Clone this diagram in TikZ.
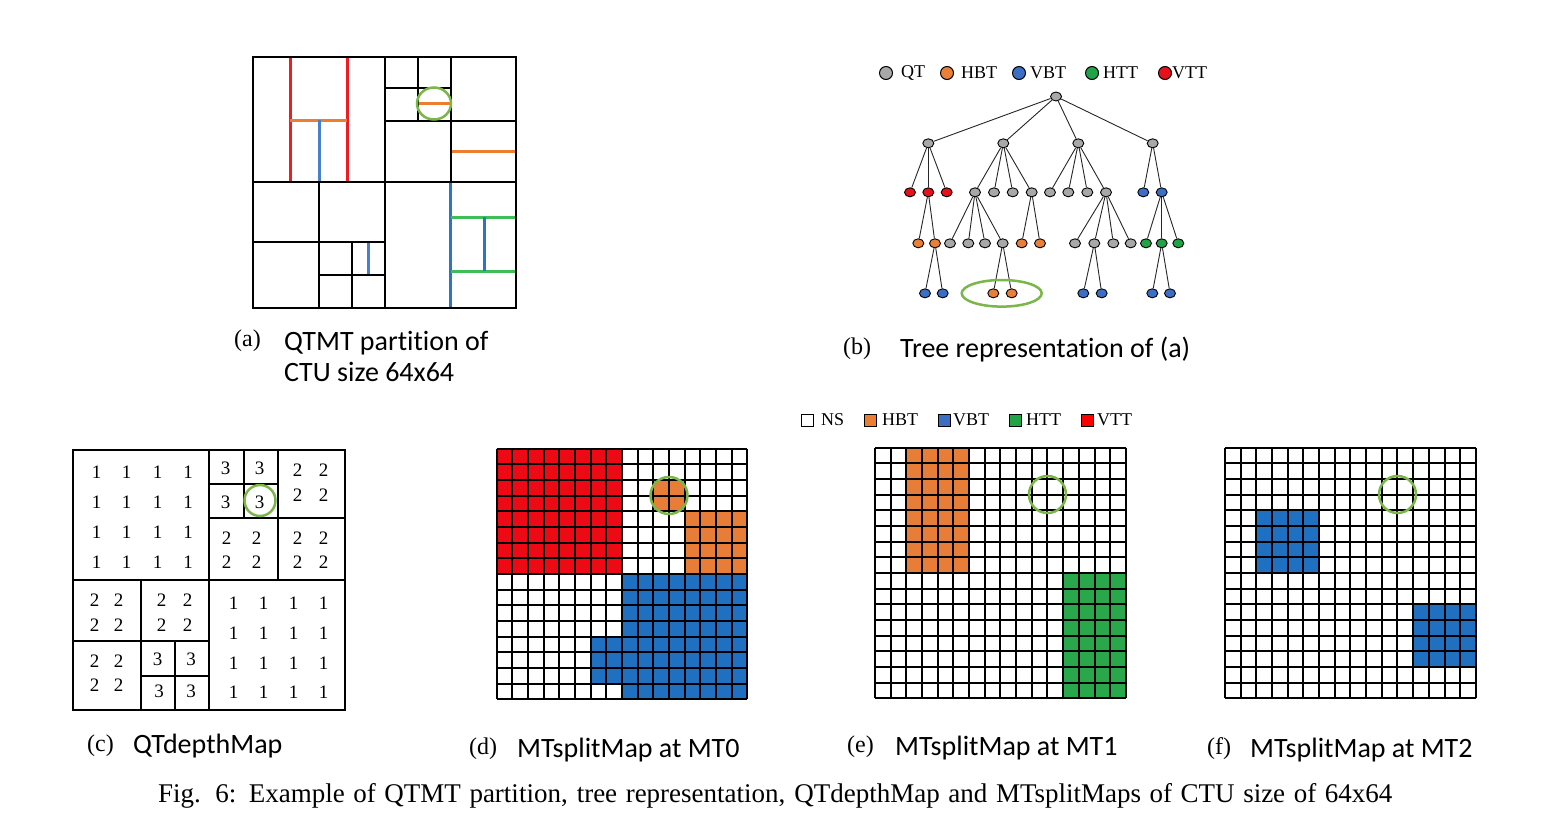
\documentclass[tikz,border=0pt]{standalone}
\usepackage{fontspec}
\setmainfont{Liberation Serif}
\newfontfamily\calib[Ligatures=NoCommon]{Carlito}
\usetikzlibrary{shapes.geometric}
\definecolor{lRed}{HTML}{EE1C24}
\definecolor{lOrange}{HTML}{ED7D31}
\definecolor{lBlue}{HTML}{4A7FC9}
\definecolor{lBlueD}{HTML}{2E75C0}
\definecolor{lGreen}{HTML}{3DBF55}
\definecolor{nGray}{HTML}{A8A8A8}
\definecolor{nRed}{HTML}{E8101A}
\definecolor{nOrange}{HTML}{E8803A}
\definecolor{nBlue}{HTML}{3B6FC4}
\definecolor{nGreen}{HTML}{21A347}
\definecolor{fRed}{HTML}{EE0A14}
\definecolor{fOrange}{HTML}{E87D37}
\definecolor{fBlue}{HTML}{1F70C0}
\definecolor{fGreen}{HTML}{28A84A}
\definecolor{cCirc}{HTML}{7AB648}
\newcommand\mtgrid[2]{%
  \foreach \k in {0,...,16} {
    \draw[gridl] ({#1+\k*15.68},#2) -- ({#1+\k*15.68},{#2+250.9});
    \draw[gridl] (#1,{#2+\k*15.68}) -- ({#1+250.9},{#2+\k*15.68});
  }}
\newcommand\blk[7]{\fill[#1] ({#2+#4*15.68},{#3+#5*15.68}) rectangle ({#2+(#4+#6)*15.68},{#3+(#5+#7)*15.68});}
\begin{document}
\begin{tikzpicture}[x=1pt,y=-1pt,
  tn/.style={ellipse,draw=black,line width=0.9pt,minimum width=11pt,minimum height=9pt,inner sep=0pt},
  qt/.style={tn,fill=nGray}, hbt/.style={tn,fill=nOrange}, vbt/.style={tn,fill=nBlue},
  htt/.style={tn,fill=nGreen}, vtt/.style={tn,fill=nRed},
  lgc/.style={circle,draw=black,line width=1pt,minimum size=13pt,inner sep=0pt},
  lgs/.style={rectangle,draw=black,line width=1pt,minimum size=12pt,inner sep=0pt},
  tedge/.style={line width=0.9pt,draw=black!85},
  part/.style={line width=2pt,black},
  cl/.style={line width=3pt},
  gridl/.style={line width=2pt,black},
  ring/.style={draw=cCirc,line width=2.5pt},
  lab/.style={font=\fontsize{24}{28}\selectfont,anchor=base west,inner sep=0pt},
  captxt/.style={font=\calib\fontsize{28}{33}\selectfont,anchor=base west,inner sep=0pt},
  dig/.style={font=\fontsize{19}{21}\selectfont,inner sep=0pt},
  leg/.style={font=\fontsize{18}{20}\selectfont,anchor=west,inner sep=0pt}]
\useasboundingbox (0,0) rectangle (1563,836);
%%%%%%%% (a) partition
\draw[cl,lRed] (290,57) -- (290,181.5);
\draw[cl,lRed] (347,57) -- (347,181.5);
\draw[cl,lOrange] (290,120) -- (347,120);
\draw[cl,lBlue] (319,120) -- (319,181.5);
\draw[cl,lOrange] (418,103.5) -- (451,103.5);
\draw[cl,lOrange] (451,151) -- (516,151);
\draw[cl,lBlue] (368.5,242) -- (368.5,275);
\draw[cl,lBlueD] (450.5,181.5) -- (450.5,308);
\draw[cl,lGreen] (450.5,217) -- (516,217);
\draw[cl,lGreen] (450.5,271) -- (516,271);
\draw[cl,lBlueD] (484,217) -- (484,271);
\draw[part] (385,57) -- (385,308);
\draw[part] (253,181.5) -- (516,181.5);
\draw[part] (451,57) -- (451,181.5);
\draw[part] (385,121) -- (516,121);
\draw[part] (418,57) -- (418,121);
\draw[part] (385,88) -- (451,88);
\draw[part] (319,181.5) -- (319,308);
\draw[part] (253,242) -- (385,242);
\draw[part] (352,242) -- (352,308);
\draw[part] (319,275) -- (385,275);
\draw[part] (253,57) rectangle (516,308);
\draw[ring] (434,103.5) ellipse [x radius=17pt,y radius=16pt];
\node[lab] (la) at (234,346) {(a)};
\node[captxt] (ca1) at (284,350.5) {QTMT partition of};
\node[captxt] (ca2) at (284,381) {CTU size 64x64};
%%%%%%%% (b) tree
\node[lgc,fill=nGray] (lq) at (886,73) {};
\node[leg] (tq) at (901,73) {QT};
\node[lgc,fill=nOrange] (lh) at (947,73) {};
\node[leg] (th) at (961,73) {HBT};
\node[lgc,fill=nBlue] (lv) at (1019,73) {};
\node[leg] (tv) at (1030,73) {VBT};
\node[lgc,fill=nGreen] (lht) at (1092,73) {};
\node[leg] (tht) at (1103,73) {HTT};
\node[lgc,fill=nRed] (lvt) at (1165,73) {};
\node[leg] (tvt) at (1172,73) {VTT};
\node[qt] (r) at (1056,96.5) {};
\foreach \n/\x in {a/928.3,b/1003.3,c/1078.3,d/1152.7} \node[qt] (\n) at (\x,143.3) {};
\foreach \n/\x in {a1/910,a2/928.3,a3/946.7} \node[vtt] (\n) at (\x,192.3) {};
\foreach \n/\x in {b1/975,b2/994,b3/1012.7,b4/1031.7,c1/1050,c2/1068.3,c3/1087.3,c4/1106} \node[qt] (\n) at (\x,192.3) {};
\foreach \n/\x in {d1/1143.3,d2/1161.7} \node[vbt] (\n) at (\x,192.3) {};
\foreach \n/\x in {a2a/918.3,a2b/935,b4a/1021.7,b4b/1040} \node[hbt] (\n) at (\x,243.3) {};
\foreach \n/\x in {b1a/950,b1b/968.3,b1c/985,b1d/1002.7,c4a/1075,c4b/1094.3,c4c/1113.3,c4d/1130.7} \node[qt] (\n) at (\x,243.3) {};
\foreach \n/\x in {d2a/1146,d2b/1161.7,d2c/1178.3} \node[htt] (\n) at (\x,243.3) {};
\foreach \n/\x in {e1/925,e2/942.7,g1/1083.3,g2/1101.7,h1/1152.3,h2/1170} \node[vbt] (\n) at (\x,293.3) {};
\foreach \n/\x in {f1/993.3,f2/1011.7} \node[hbt] (\n) at (\x,293.3) {};
\foreach \p/\c in {r/a,r/b,r/c,r/d,a/a1,a/a2,a/a3,b/b1,b/b2,b/b3,b/b4,c/c1,c/c2,c/c3,c/c4,d/d1,d/d2,
  a2/a2a,a2/a2b,b1/b1a,b1/b1b,b1/b1c,b1/b1d,b4/b4a,b4/b4b,c4/c4a,c4/c4b,c4/c4c,c4/c4d,d2/d2a,d2/d2b,d2/d2c,
  a2b/e1,a2b/e2,b1d/f1,b1d/f2,c4b/g1,c4b/g2,d2b/h1,d2b/h2}
  \draw[tedge] (\p) -- (\c);
\draw[ring] (1001.7,293.3) ellipse [x radius=40pt,y radius=13.3pt];
\node[lab] (lb) at (843,354) {(b)};
\node[captxt] (cb) at (900,357) {Tree representation of (a)};
%%%%%%%% (c) QTdepthMap
\draw[part] (209,450) -- (209,710);
\draw[part] (72.5,580) -- (344.5,580);
\draw[part] (277.5,450) -- (277.5,580);
\draw[part] (209,518) -- (344.5,518);
\draw[part] (243.5,450) -- (243.5,518);
\draw[part] (209,484) -- (277.5,484);
\draw[part] (141,580) -- (141,710);
\draw[part] (72.5,641) -- (209,641);
\draw[part] (175,641) -- (175,710);
\draw[part] (141,675.5) -- (209,675.5);
\draw[part] (72.5,450) rectangle (344.5,710);
\foreach \x in {96.5,126.5,157.5,188} \foreach \y in {472.5,502,532.5,562} \node[dig] (d-\x-\y) at (\x,\y) {1};
\foreach \x in {233.5,263.5,293.5,323.5} \foreach \y in {603,633,663,692} \node[dig] (d-\x-\y) at (\x,\y) {1};
\foreach \x/\y in {225.5/468,259.5/468,225.5/502,259.5/502,157.5/659,191/659,159/691.5,191/691.5} \node[dig] (d-\x-\y) at (\x,\y) {3};
\foreach \x/\y in {297.5/470,323.5/470,297.5/495,323.5/495,226.5/538,256.5/538,226.5/562,256.5/562,
  297.5/538,323.5/538,297.5/562,323.5/562,94.5/600,118.5/600,94.5/625,118.5/625,161.5/600,187.5/600,161.5/625,187.5/625,
  94.5/661.5,118.5/661.5,94.5/685.5,118.5/685.5} \node[dig] (d-\x-\y) at (\x,\y) {2};
\draw[ring] (260,500.5) circle (15.5pt);
\node[lab] (lc) at (87,751) {(c)};
\node[captxt] (cc) at (133,753) {QTdepthMap};
%%%%%%%% legend 2
\node[lgs,fill=white] (sn) at (807.5,420) {};
\node[leg] (tn) at (821,420) {NS};
\node[lgs,fill=lOrange] (sh) at (870,420) {};
\node[leg] (th2) at (882,420) {HBT};
\node[lgs,fill=nBlue] (sv) at (944,420) {};
\node[leg] (tv2) at (953,420) {VBT};
\node[lgs,fill=nGreen] (sht) at (1015.5,420) {};
\node[leg] (tht2) at (1026,420) {HTT};
\node[lgs,fill=red] (svt) at (1087,420) {};
\node[leg] (tvt2) at (1097,420) {VTT};
%%%%%%%% (d)
\blk{fRed}{496.5}{448.5}{0}{0}{8}{8}
\blk{fOrange}{496.5}{448.5}{10}{2}{2}{2}
\blk{fOrange}{496.5}{448.5}{12}{4}{4}{4}
\blk{fBlue}{496.5}{448.5}{8}{8}{8}{8}
\blk{fBlue}{496.5}{448.5}{6}{12}{2}{3}
\mtgrid{496.5}{448.5}
\draw[ring] (669,495.5) circle (18.5pt);
\node[lab] (ld) at (469,754) {(d)};
\node[captxt] (cd) at (517,757) {MTsplitMap at MT0};
%%%%%%%% (e)
\blk{fOrange}{875}{447.5}{2}{0}{4}{8}
\blk{fGreen}{875}{447.5}{12}{8}{4}{8}
\mtgrid{875}{447.5}
\draw[ring] (1047.5,494.5) circle (18.5pt);
\node[lab] (le) at (847,752) {(e)};
\node[captxt] (ce) at (895,755) {MTsplitMap at MT1};
%%%%%%%% (f)
\blk{fBlue}{1225}{447.5}{2}{4}{4}{4}
\blk{fBlue}{1225}{447.5}{12}{10}{4}{4}
\mtgrid{1225}{447.5}
\draw[ring] (1397.5,494.5) circle (18.5pt);
\node[lab] (lf) at (1207,754) {(f)};
\node[captxt] (cf) at (1250,757) {MTsplitMap at MT2};
%%%%%%%% figure caption
\node[anchor=base west,inner sep=0pt,font=\fontsize{27}{31}\selectfont] (fig) at (158,802)
  {\makebox[1234pt][s]{Fig. 6: Example of QTMT partition, tree representation, QTdepthMap and MTsplitMaps of CTU size of 64x64}};
\end{tikzpicture}
\end{document}
